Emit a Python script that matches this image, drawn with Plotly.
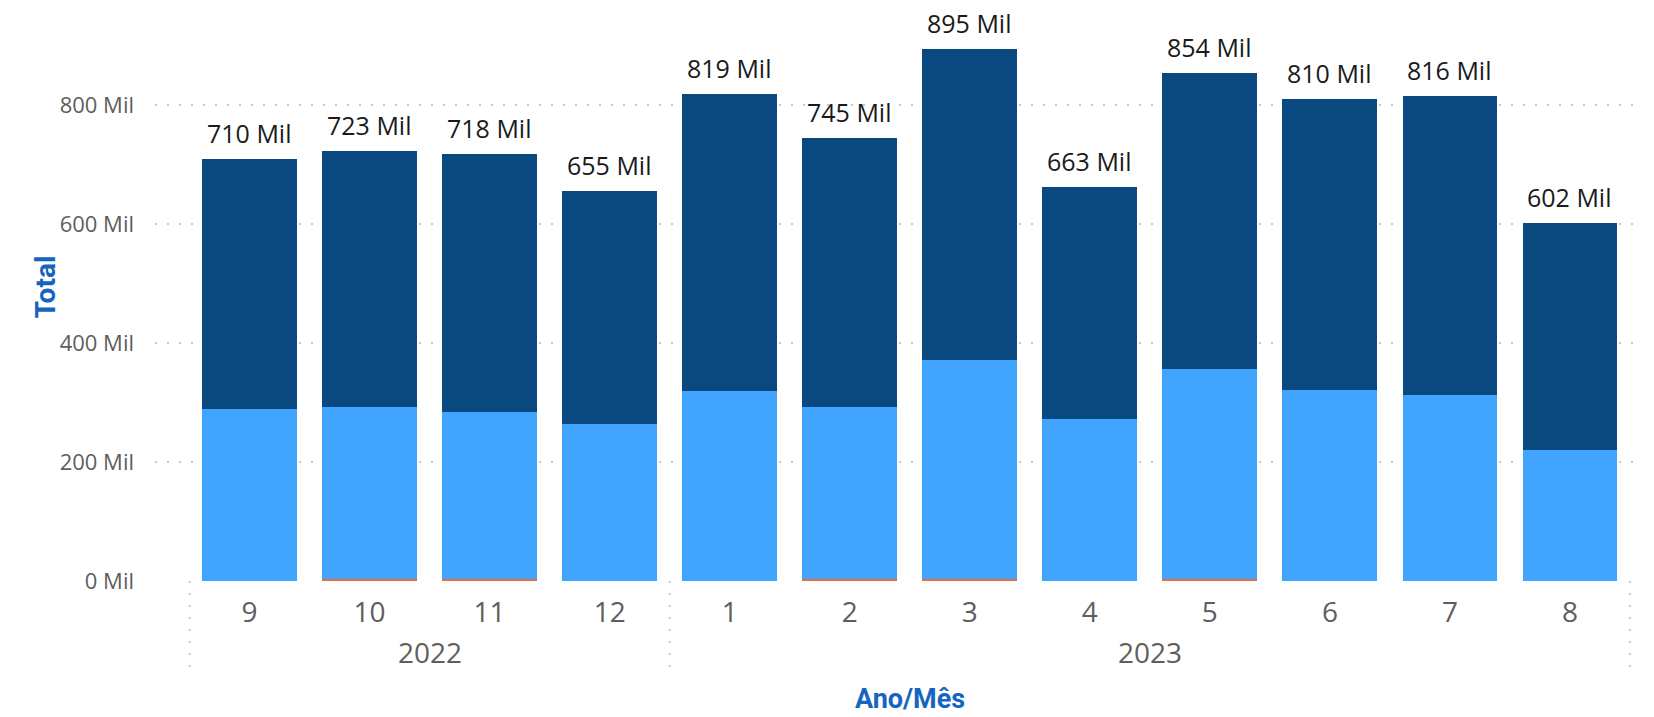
import plotly.graph_objects as go

months = ["9", "10", "11", "12", "1", "2", "3", "4", "5", "6", "7", "8"]
years = ["2022", "2023"]
year_group_start = [0, 4]
year_group_end = [3, 11]
total_labels = ["710 Mil", "723 Mil", "718 Mil", "655 Mil", "819 Mil", "745 Mil",
                "895 Mil", "663 Mil", "854 Mil", "810 Mil", "816 Mil", "602 Mil"]
totals = [710, 723, 718, 655, 819, 745, 895, 663, 854, 810, 816, 602]
orange_vals = [0, 3, 3, 0, 0, 3, 3, 0, 3, 0, 0, 0]
light_vals = [289, 289, 281, 264, 319, 289, 368, 272, 353, 321, 313, 220]
dark_vals = [421, 431, 434, 391, 500, 453, 524, 391, 498, 489, 503, 382]
y_tick_vals = [0, 200, 400, 600, 800]
y_tick_text = ["0 Mil", "200 Mil", "400 Mil", "600 Mil", "800 Mil"]

x = list(range(len(months)))
FONT = "Open Sans"
GRAY = "#605E5C"
TITLE_BLUE = "#1565C0"
SEP = dict(color="#C8C8C8", width=2, dash="2px,10px")

fig = go.Figure()
fig.add_trace(go.Bar(x=x, y=orange_vals, marker_color="#E66C37", width=0.79,
                     marker_line_width=0, showlegend=False))
fig.add_trace(go.Bar(x=x, y=light_vals, marker_color="#41A4FF", width=0.79,
                     marker_line_width=0, showlegend=False))
fig.add_trace(go.Bar(x=x, y=dark_vals, marker_color="#0A4880", width=0.79,
                     marker_line_width=0, showlegend=False))

for i, (t, lab) in enumerate(zip(totals, total_labels)):
    fig.add_annotation(x=i, y=t, text=lab, showarrow=False, yanchor="bottom",
                       yshift=8, borderpad=0,
                       font=dict(family=FONT, size=25, color="#1a1a1a"))

for yr, s, e in zip(years, year_group_start, year_group_end):
    fig.add_annotation(x=(s + e) / 2, y=-0.125, xref="x", yref="paper", text=yr,
                       showarrow=False, yanchor="middle",
                       font=dict(family=FONT, size=28, color=GRAY))
    fig.add_shape(type="line", xref="x", yref="paper", x0=s - 0.5, x1=s - 0.5,
                  y0=0, y1=-0.168, line=SEP)
fig.add_shape(type="line", xref="x", yref="paper", x0=year_group_end[-1] + 0.5,
              x1=year_group_end[-1] + 0.5, y0=0, y1=-0.168, line=SEP)

fig.add_annotation(x=-0.0858, y=0.515, xref="paper", yref="paper", text="<b>Total</b>",
                   textangle=-90, showarrow=False,
                   font=dict(family="Roboto", size=28, color=TITLE_BLUE))
fig.add_annotation(x=0.5098, y=-0.2365, xref="paper", yref="paper", text="<b>Ano/Mês</b>",
                   showarrow=False, yanchor="bottom", borderpad=0,
                   font=dict(family="Roboto", size=27, color=TITLE_BLUE))

fig.update_layout(
    width=1654, height=717,
    margin=dict(l=155, r=18, t=10, b=136),
    barmode="stack",
    plot_bgcolor="white", paper_bgcolor="white",
    font=dict(family=FONT),
)
fig.update_xaxes(range=[-0.7875, 11.55], tickvals=x, ticktext=months,
                 tickfont=dict(family=FONT, size=28, color=GRAY),
                 showgrid=False, zeroline=False, showline=False,
                 ticks="outside", ticklen=6, tickcolor="rgba(0,0,0,0)")
fig.update_yaxes(range=[0, 960], tickvals=y_tick_vals, ticktext=y_tick_text,
                 tickfont=dict(family=FONT, size=22, color=GRAY),
                 showgrid=True, gridcolor="#C8C8C8", gridwidth=2, griddash="2px,10px",
                 zeroline=False, showline=False, ticklabelstandoff=20)

fig.write_html("out.html", config={"displayModeBar": False},
               post_script="document.body.style.margin='0';document.body.style.overflow='hidden';")
